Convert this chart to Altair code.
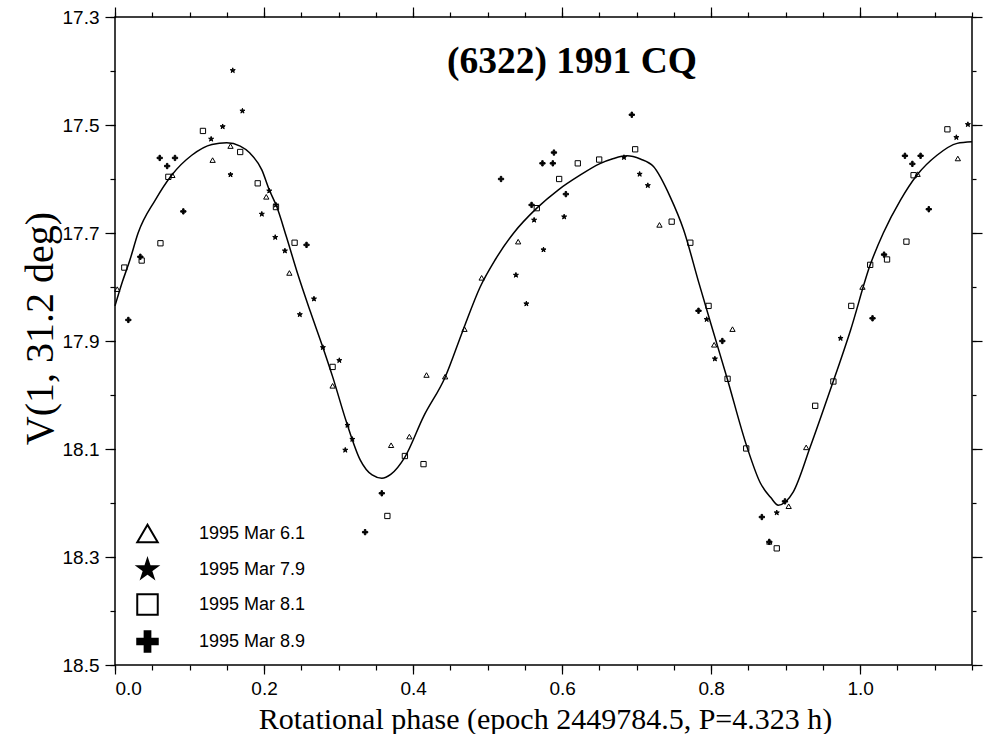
import altair as alt
import pandas as pd

# ---------------- data ----------------
tri_phase = [0.003, 0.077, 0.131, 0.155, 0.203, 0.234, 0.292, 0.3705, 0.395, 0.418, 0.443, 0.469,
             0.492, 0.541, 0.7306, 0.804, 0.8286, 0.878, 0.904, 0.9275, 1.003, 1.077, 1.131]
tri_mag = [17.804, 17.593, 17.565, 17.539, 17.633, 17.774, 17.983, 18.093, 18.077, 17.963, 17.966, 17.878,
           17.783, 17.716, 17.685, 17.907, 17.878, 18.272, 18.206, 18.097, 17.800, 17.591, 17.562]

star_phase = [0.129, 0.1445, 0.155, 0.158, 0.171, 0.197, 0.207, 0.215, 0.216, 0.228, 0.248, 0.267,
              0.279, 0.301, 0.309, 0.312, 0.3185, 0.538, 0.552, 0.5624, 0.575, 0.6027, 0.683, 0.704,
              0.715, 0.794, 0.805, 0.888, 0.9736, 1.129, 1.1445]
star_mag = [17.526, 17.503, 17.592, 17.399, 17.474, 17.665, 17.622, 17.708, 17.648, 17.733, 17.851, 17.822,
            17.912, 17.936, 18.102, 18.056, 18.082, 17.778, 17.831, 17.676, 17.731, 17.670, 17.560, 17.591,
            17.612, 17.860, 17.933, 18.218, 17.895, 17.523, 17.499]

sq_phase = [0.0125, 0.0358, 0.061, 0.0716, 0.118, 0.168, 0.1915, 0.216, 0.241, 0.292, 0.3655, 0.389,
            0.414, 0.566, 0.596, 0.621, 0.6497, 0.698, 0.747, 0.772, 0.7965, 0.822, 0.847, 0.888,
            0.9396, 0.964, 0.988, 1.0134, 1.036, 1.062, 1.0716, 1.117]
sq_mag = [17.764, 17.751, 17.719, 17.596, 17.511, 17.550, 17.608, 17.652, 17.718, 17.948, 18.224, 18.113,
          18.128, 17.654, 17.600, 17.571, 17.564, 17.545, 17.679, 17.718, 17.835, 17.970, 18.099, 18.284,
          18.020, 17.975, 17.835, 17.759, 17.749, 17.716, 17.593, 17.508]

plus_phase = [0.0179, 0.034, 0.060, 0.070, 0.0805, 0.0917, 0.257, 0.3356, 0.358, 0.518, 0.559, 0.5736,
              0.5875, 0.589, 0.605, 0.6935, 0.783, 0.815, 0.868, 0.878, 0.899, 1.0165, 1.032, 1.060,
              1.070, 1.081, 1.092]
plus_mag = [17.861, 17.744, 17.561, 17.576, 17.561, 17.660, 17.722, 18.254, 18.182, 17.600, 17.648, 17.571,
            17.571, 17.551, 17.628, 17.481, 17.844, 17.900, 18.226, 18.272, 18.197, 17.858, 17.740, 17.557,
            17.572, 17.557, 17.656]

curve_phase = [0.0, 0.01, 0.02, 0.031, 0.054, 0.076, 0.103, 0.13, 0.15, 0.168, 0.181, 0.197, 0.207,
               0.217, 0.230, 0.245, 0.262, 0.279, 0.292, 0.311, 0.329, 0.345, 0.358, 0.370, 0.389,
               0.414, 0.443, 0.467, 0.49, 0.51, 0.535, 0.566, 0.595, 0.624, 0.65, 0.669, 0.687,
               0.705, 0.7226, 0.745, 0.763, 0.783, 0.80, 0.821, 0.848, 0.866, 0.88, 0.89, 0.91,
               0.933, 0.96, 0.987, 1.0134, 1.031, 1.054, 1.076, 1.103, 1.13, 1.15]
curve_mag = [17.835, 17.79, 17.75, 17.70, 17.639, 17.593, 17.556, 17.536, 17.533, 17.539, 17.552, 17.583,
             17.62, 17.651, 17.707, 17.775, 17.845, 17.912, 17.966, 18.052, 18.12, 18.148, 18.154,
             18.147, 18.115, 18.04, 17.967, 17.88, 17.80, 17.75, 17.70, 17.654, 17.62, 17.593, 17.572,
             17.562, 17.557, 17.563, 17.577, 17.633, 17.694, 17.79, 17.87, 17.967, 18.096, 18.163,
             18.19, 18.204, 18.18, 18.096, 17.99, 17.88, 17.759, 17.70, 17.639, 17.593, 17.556,
             17.534, 17.531]

series_names = ["1995 Mar 6.1", "1995 Mar 7.9", "1995 Mar 8.1", "1995 Mar 8.9"]
title_text = "(6322) 1991 CQ"
x_title = "Rotational phase (epoch 2449784.5, P=4.323 h)"
y_title = "V(1, 31.2 deg)"

x_major = [0.0, 0.2, 0.4, 0.6, 0.8, 1.0]
x_minor = [round(i * 0.05, 2) for i in range(24)]
y_major = [17.3, 17.5, 17.7, 17.9, 18.1, 18.3, 18.5]
y_minor = [round(17.3 + i * 0.1, 1) for i in range(13)]

# ---------------- tables ----------------
rows = []
for name, ph, mg in zip(series_names,
                        [tri_phase, star_phase, sq_phase, plus_phase],
                        [tri_mag, star_mag, sq_mag, plus_mag]):
    for p, m in zip(ph, mg):
        rows.append({"phase": p, "mag": m, "series": name})
pts = pd.DataFrame(rows)
curve = pd.DataFrame({"phase": curve_phase, "mag": curve_mag})
title_df = pd.DataFrame({"label": [title_text]})

W, H = 857, 648
XD = [0.0, 1.15]
YD = [17.3, 18.5]

STAR = ("M0,-1L0.2245,-0.309L0.951,-0.309L0.363,0.118L0.588,0.809L0,0.382L-0.588,0.809"
        "L-0.363,0.118L-0.951,-0.309L-0.2245,-0.309Z")
PLUS = ("M-0.28,-1L0.28,-1L0.28,-0.28L1,-0.28L1,0.28L0.28,0.28L0.28,1L-0.28,1L-0.28,0.28L-1,0.28"
        "L-1,-0.28L-0.28,-0.28Z")

def xs(axis):
    return alt.X("phase:Q", scale=alt.Scale(domain=XD, nice=False, zero=False), axis=axis)

def ys(axis):
    return alt.Y("mag:Q", scale=alt.Scale(domain=YD, nice=False, zero=False, reverse=True), axis=axis)

LF = "Liberation Sans"
SF = "Liberation Serif"

# main axes (labels + titles)
line = alt.Chart(curve).mark_line(color="black", strokeWidth=1.5, interpolate="monotone").encode(
    x=xs(alt.Axis(orient="bottom", values=x_major, format=".1f", tickSize=9, tickColor="black",
                  tickWidth=1.2, domain=False, grid=False, labelFont=LF, labelFontSize=19,
                  labelColor="black", labelPadding=5, title=x_title, titleFont=SF,
                  titleFontSize=30, titleFontWeight="normal", titleColor="black",
                  titleBaseline="alphabetic", titleY=63, titleX=430)),
    y=ys(alt.Axis(orient="left", values=y_major, format=".1f", tickSize=10, tickColor="black",
                  tickWidth=1.2, domain=False, grid=False, labelFont=LF, labelFontSize=19,
                  labelColor="black", labelPadding=6, title=y_title, titleFont=SF,
                  titleFontSize=40, titleFontWeight="normal", titleColor="black",
                  titleAngle=-90, titleBaseline="alphabetic", titleX=-63, titleY=311)),
)

leg = alt.Legend(title=None, orient="none", legendX=21, legendY=505, padding=0, symbolSize=420,
                 symbolStrokeWidth=2, symbolStrokeColor="black", labelFont=LF, labelFontSize=18,
                 labelColor="black", labelOffset=40, rowPadding=8)

points = alt.Chart(pts).mark_point(size=28, strokeWidth=1, opacity=1).encode(
    x=xs(None),
    y=ys(None),
    shape=alt.Shape("series:N", scale=alt.Scale(domain=series_names,
                    range=["triangle-up", STAR, "square", PLUS]), legend=leg),
    fill=alt.Fill("series:N", scale=alt.Scale(domain=series_names,
                  range=["transparent", "black", "transparent", "black"]), legend=leg),
    stroke=alt.Stroke("series:N", scale=alt.Scale(domain=series_names,
                      range=["black", "black", "black", "black"]), legend=leg),
)

def ghost(xaxis, yaxis):
    return alt.Chart(curve).mark_point(opacity=0, size=1).encode(x=xs(xaxis), y=ys(yaxis))

def tick_axis(orient, values, size):
    return alt.Axis(orient=orient, values=values, labels=False, tickSize=size, tickColor="black",
                    tickWidth=1.2, domain=False, grid=False, title=None)

minor_bl = ghost(tick_axis("bottom", x_minor, 5), tick_axis("left", y_minor, 5))
major_tr = ghost(tick_axis("top", x_major, 10), tick_axis("right", y_major, 10))
minor_tr = ghost(tick_axis("top", x_minor, 5), tick_axis("right", y_minor, 4))

title = alt.Chart(title_df).mark_text(font=SF, fontWeight="bold", fontSize=37.5, align="center",
                                      baseline="alphabetic", color="black").encode(
    x=alt.value(457), y=alt.value(56), text="label:N")

chart = alt.layer(line, points, minor_bl, major_tr, minor_tr, title).resolve_scale(
    x="independent", y="independent"
).properties(
    width=W, height=H,
    autosize=alt.AutoSizeParams(type="none"),
    padding={"left": 115, "top": 17, "right": 15, "bottom": 69},
    background="white",
).configure_view(stroke="black", strokeWidth=1.5)

chart.save("out.html", embed_options={"renderer": "svg", "actions": False})
